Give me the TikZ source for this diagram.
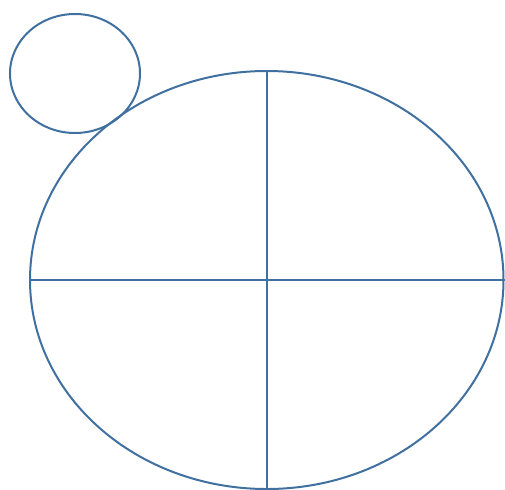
\documentclass[tikz,border=0pt]{standalone}
\usepackage{tikz}
\usetikzlibrary{shapes.geometric}
\definecolor{rimblue}{RGB}{64,112,160}
\tikzset{
  rim/.style  = {draw=rimblue, line width=1.5pt, ellipse, inner sep=0pt},
  cross/.style = {draw=rimblue, line width=1.5pt},
}
\begin{document}
\begin{tikzpicture}[x=0.75pt, y=-0.75pt]
  \useasboundingbox (0,0) rectangle (505,489);
  \node[rim, minimum width=130*0.75pt, minimum height=119*0.75pt] (head) at (75,73.5) {};
  \node[rim, minimum width=473.5*0.75pt, minimum height=418*0.75pt] (body) at (266.75,280) {};
  \draw[cross] (body.north) -- (body.south);
  \draw[cross] (body.west) -- (body.east);
\end{tikzpicture}
\end{document}
